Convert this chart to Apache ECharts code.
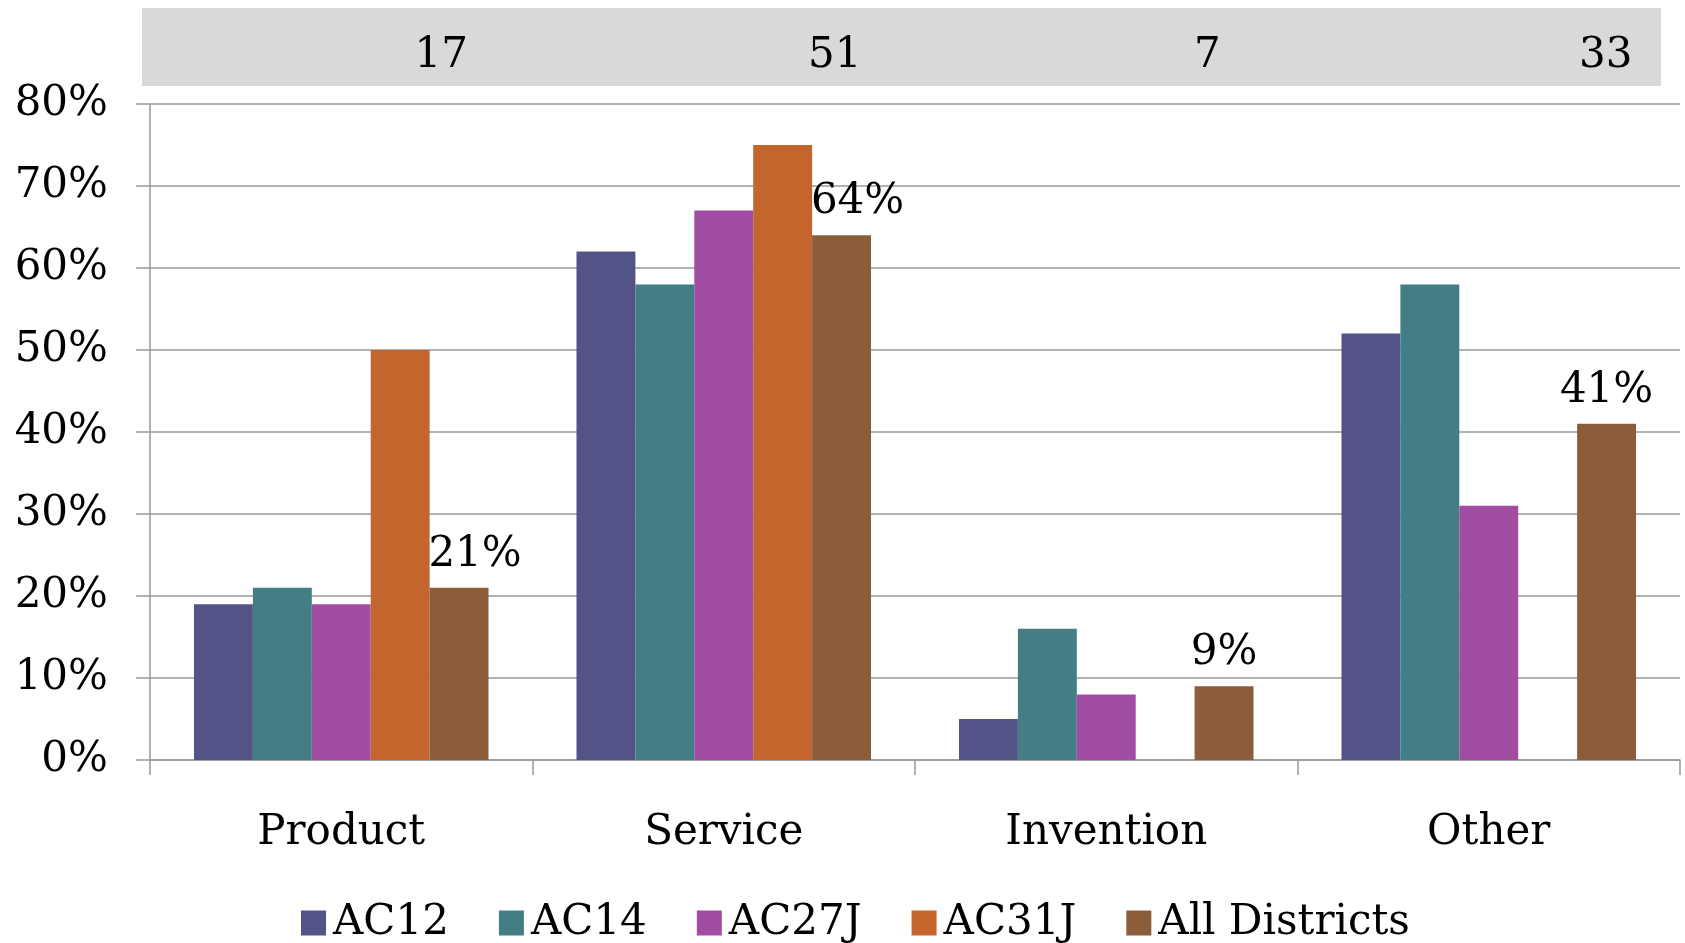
<!DOCTYPE html>
<html>
<head>
<meta charset="utf-8">
<script src="https://cdn.jsdelivr.net/npm/echarts@6/dist/echarts.min.js"></script>
<style>
html,body{margin:0;padding:0;background:#fff;}
#chart{width:1685px;height:943px;}
</style>
</head>
<body>
<div id="chart"></div>
<script>
// ---- data ----
const categories = ['Product', 'Service', 'Invention', 'Other'];
const seriesNames = ['AC12', 'AC14', 'AC27J', 'AC31J', 'All Districts'];
const ac12 = [19, 62, 5, 52];
const ac14 = [21, 58, 16, 58];
const ac27j = [19, 67, 8, 31];
const ac31j = [50, 75, null, null];
const allDistricts = [21, 64, 9, 41];
const counts = ['17', '51', '7', '33'];
const yTicks = [0, 10, 20, 30, 40, 50, 60, 70, 80];

// ---- styles / layout ----
const colors = ['#525488', '#437E85', '#A04DA3', '#C4652D', '#8B5D3B'];
const FONT = 'DejaVu Serif';
const FS = 42;
const labelShift = [[16, 0], [16, 0], [0, 0], [0, 0]];
const countShift = [100, 111, 101, 117];

const chart = echarts.init(document.getElementById('chart'));
const values = [ac12, ac14, ac27j, ac31j, allDistricts];

const series = values.map((vals, si) => {
  const isAll = si === values.length - 1;
  return {
    name: seriesNames[si],
    type: 'bar',
    barGap: '0%',
    barCategoryGap: '23%',
    itemStyle: { color: colors[si] },
    data: vals.map((v, i) => isAll ? { value: v, label: { offset: labelShift[i] } } : v),
    label: isAll ? {
      show: true, position: 'top', distance: 12,
      formatter: '{c}%', fontFamily: FONT, fontSize: FS, color: '#000'
    } : { show: false },
    emphasis: { disabled: true }
  };
});

chart.setOption({
  animation: false,
  backgroundColor: '#fff',
  color: colors,
  grid: { left: 150, right: 5, top: 104, bottom: 183, containLabel: false },
  xAxis: {
    type: 'category',
    data: categories,
    axisLine: { show: true, lineStyle: { color: '#999', width: 1.5 } },
    axisTick: { show: true, length: 15, lineStyle: { color: '#999', width: 1.5 } },
    axisLabel: { fontFamily: FONT, fontSize: FS, color: '#000', margin: 52 }
  },
  yAxis: {
    type: 'value',
    min: yTicks[0], max: yTicks[yTicks.length - 1], interval: 10,
    axisLine: { show: true, lineStyle: { color: '#999', width: 1.5 } },
    axisTick: { show: true, length: 14, lineStyle: { color: '#999', width: 1.5 } },
    splitLine: { show: true, lineStyle: { color: '#999', width: 1.5 } },
    axisLabel: { formatter: '{value}%', fontFamily: FONT, fontSize: FS, color: '#000', margin: 42 }
  },
  legend: {
    data: seriesNames,
    left: 296, top: 897,
    itemWidth: 25, itemHeight: 25, itemGap: 50,
    icon: 'rect',
    textStyle: { fontFamily: FONT, fontSize: FS, color: '#000', padding: [0, 0, 0, 2] }
  },
  series: series
});

// top band with counts, positioned via the category axis scale
const graphics = [{
  type: 'rect', z: -1,
  shape: { x: 142, y: 8, width: 1519, height: 78 },
  style: { fill: '#d9d9d9' }
}];
categories.forEach((c, i) => {
  const px = chart.convertToPixel({ xAxisIndex: 0 }, c);
  graphics.push({
    type: 'text',
    x: px + countShift[i], y: 56,
    style: {
      text: counts[i], fontFamily: FONT, fontSize: FS, fill: '#000',
      align: 'center', verticalAlign: 'middle'
    }
  });
});
chart.setOption({ graphic: graphics });
</script>
</body>
</html>
